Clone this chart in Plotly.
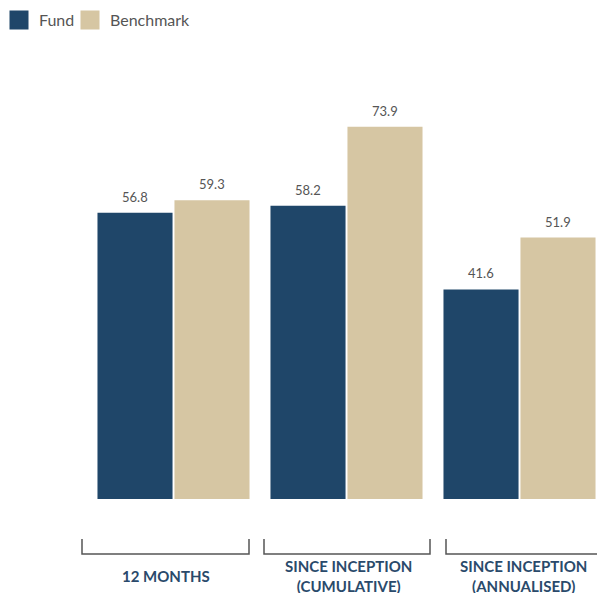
import plotly.graph_objects as go

categories = ["12 MONTHS", "SINCE INCEPTION<br>(CUMULATIVE)", "SINCE INCEPTION<br>(ANNUALISED)"]
fund = [56.8, 58.2, 41.6]
benchmark = [59.3, 73.9, 51.9]
series_names = ["Fund", "Benchmark"]
colors = ["#1F4669", "#D6C6A3"]

# page has an 8px body margin; layout pixel positions below are in figure pixels
W, H = 597, 585
L, R, T, B = 79, 0, 88, 94
PW = W - L - R
PH = H - T - B

def px_x(p):
    return (p - L) / PW

def px_y(p):
    return (H - B - p) / PH

fig = go.Figure()
xs = list(range(len(categories)))
legend_ids = ["legend", "legend2"]
for name, vals, col, lg in zip(series_names, [fund, benchmark], colors, legend_ids):
    fig.add_trace(go.Bar(
        x=xs, y=vals, name=name, showlegend=False,
        marker=dict(color=col, line=dict(width=0)),
        hoverinfo="skip",
    ))
    fig.add_trace(go.Scatter(
        x=[None], y=[None], mode="markers", name=name, legend=lg,
        marker=dict(symbol="square", size=16, color=col, line=dict(color=col, width=3)),
    ))

# value labels above bars
offsets = [-0.2245, 0.2245]
for vals, off in zip([fund, benchmark], offsets):
    for i, v in enumerate(vals):
        fig.add_annotation(x=i + off, y=v, text=f"{v:.1f}", showarrow=False,
                           yanchor="bottom", yshift=6,
                           font=dict(family="Lato", size=13, color="#555555"))

# bracket decorations and category labels
brackets = [(74, 241), (256, 422), (438, 604)]
label_centers = [158, 340, 515]
for (a, b), c, lab in zip(brackets, label_centers, categories):
    y0, y1 = px_y(531), px_y(546)
    fig.add_shape(type="path", xref="paper", yref="paper",
                  path=f"M {px_x(a)},{y0} L {px_x(a)},{y1} L {px_x(b)},{y1} L {px_x(b)},{y0}",
                  line=dict(color="#555555", width=1.5))
    fig.add_annotation(xref="paper", yref="paper", x=px_x(c), y=px_y(568),
                       text=f"<b>{lab}</b>", showarrow=False, yanchor="middle",
                       xanchor="center",
                       font=dict(family="Lato", size=15, color="#2A4A6B"))

legend_style = dict(orientation="h", yanchor="middle", xanchor="left",
                    bgcolor="rgba(0,0,0,0)",
                    font=dict(family="Lato", size=16, color="#555555"),
                    itemclick=False, itemdoubleclick=False)
fig.update_layout(
    width=W, height=H,
    margin=dict(l=L, r=R, t=T, b=B, autoexpand=False),
    paper_bgcolor="white", plot_bgcolor="white",
    barmode="group", bargap=0.11, bargroupgap=0.025,
    font=dict(family="Lato", color="#555555"),
    showlegend=True,
    legend=dict(x=px_x(-9), y=px_y(12), **legend_style),
    legend2=dict(x=px_x(62), y=px_y(12), **legend_style),
    xaxis=dict(range=[-0.5, -0.5 + PW / 173.0], showticklabels=False, showgrid=False,
               zeroline=False, showline=False, ticks=""),
    yaxis=dict(range=[0, 80], visible=False),
)

fig.write_html("out.html")
